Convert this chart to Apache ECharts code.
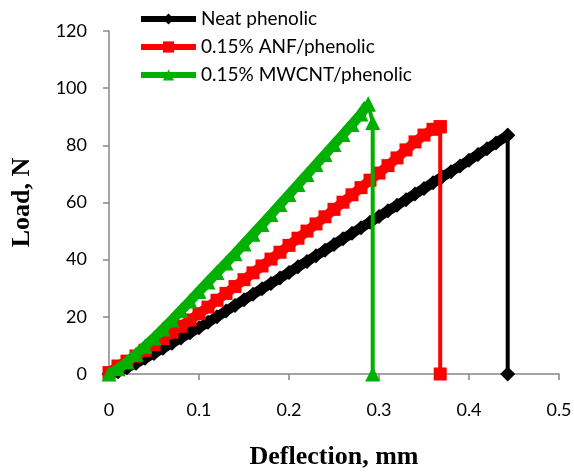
<!DOCTYPE html>
<html>
<head>
<meta charset="utf-8">
<script src="https://cdn.jsdelivr.net/npm/echarts@6/dist/echarts.min.js"></script>
<style>html,body{margin:0;padding:0;background:#fff}#c{width:574px;height:473px}</style>
</head>
<body>
<div id="c"></div>
<script>
var seriesNames = ['Neat phenolic', '0.15% ANF/phenolic', '0.15% MWCNT/phenolic'];
var xTicks = [0, 0.1, 0.2, 0.3, 0.4, 0.5];
var yTicks = [0, 20, 40, 60, 80, 100, 120];

var neatPhenolic = [
  [0,0],[0.01,0.8],[0.02,2.2],[0.03,3.8],[0.04,5.5],[0.05,7.2],[0.06,9],[0.07,10.8],[0.08,12.6],[0.09,14.4],
  [0.10,16.2],[0.11,18.1],[0.12,20],[0.13,22],[0.14,24],[0.15,26],[0.16,27.9],[0.17,29.8],[0.18,31.7],[0.19,33.6],
  [0.20,35.5],[0.21,37.5],[0.22,39.4],[0.23,41.4],[0.24,43.3],[0.25,45.3],[0.26,47.3],[0.27,49.2],[0.28,51.2],[0.29,53.1],
  [0.30,55.1],[0.31,57.1],[0.32,59],[0.33,61],[0.34,63],[0.35,64.9],[0.36,66.9],[0.37,68.9],[0.38,70.8],[0.39,72.8],
  [0.40,74.8],[0.41,76.8],[0.42,78.8],[0.43,80.8],[0.443,83.5],[0.443,0]
];
var anfPhenolic = [
  [0,0.5],[0.01,2.8],[0.02,4.5],[0.03,6.3],[0.04,8.3],[0.05,10.3],[0.06,12.4],[0.07,14.6],[0.08,16.7],[0.09,18.9],
  [0.10,21.1],[0.11,23.4],[0.12,25.8],[0.13,28.2],[0.14,30.6],[0.15,33],[0.16,35.4],[0.17,37.8],[0.18,40.2],[0.19,42.6],
  [0.20,45],[0.21,47.5],[0.22,50],[0.23,52.5],[0.24,55],[0.25,57.6],[0.26,60.1],[0.27,62.7],[0.28,65.2],[0.29,67.8],
  [0.30,70.3],[0.31,72.9],[0.32,75.6],[0.33,78.4],[0.34,81.2],[0.35,83.6],[0.36,85.6],[0.368,86.5],[0.368,0]
];
var mwcntPhenolic = [
  [0,0],[0.01,1.8],[0.02,4.2],[0.03,6.9],[0.04,9.7],[0.05,12.6],[0.06,15.7],[0.07,18.9],[0.08,22.2],[0.09,25.5],
  [0.10,28.9],[0.11,32.2],[0.12,35.5],[0.13,38.8],[0.14,42.1],[0.15,45.5],[0.16,48.9],[0.17,52.3],[0.18,55.8],[0.19,59.3],
  [0.20,62.8],[0.21,66.3],[0.22,69.8],[0.23,73.3],[0.24,76.8],[0.25,80.3],[0.26,83.8],[0.27,87.3],[0.28,91.0],[0.288,94.5],
  [0.293,88],[0.293,0]
];

var colors = ['#000000', '#FF0000', '#00B000'];
var symbols = ['diamond', 'rect', 'triangle'];
var sizes = [15, 13, 15];
var datas = [neatPhenolic, anfPhenolic, mwcntPhenolic];

function peakIndex(d) {
  var k = 0;
  for (var j = 1; j < d.length; j++) { if (d[j][1] > d[k][1]) k = j; }
  return k;
}

var chart = echarts.init(document.getElementById('c'), null, {renderer: 'canvas'});
var series = [];
datas.forEach(function (d, i) {
  var p = peakIndex(d);
  series.push({
    name: seriesNames[i], type: 'line', data: d.slice(0, p + 1),
    symbol: symbols[i], symbolSize: sizes[i], showAllSymbol: true,
    lineStyle: {color: colors[i], width: 10, join: 'round'},
    itemStyle: {color: colors[i], borderWidth: 0},
    z: 2 + i * 2
  });
  series.push({
    name: seriesNames[i], type: 'line', data: d.slice(p),
    symbol: symbols[i], symbolSize: sizes[i], showAllSymbol: true,
    lineStyle: {color: colors[i], width: 4},
    itemStyle: {color: colors[i], borderWidth: 0},
    z: 3 + i * 2
  });
});

chart.setOption({
  animation: false,
  textStyle: {fontFamily: 'Lato'},
  grid: {left: 109, right: 15, top: 31, bottom: 99, containLabel: false, outerBoundsMode: 'none'},
  legend: {
    orient: 'vertical',
    left: 133, top: 3,
    itemWidth: 55, itemHeight: 14, itemGap: 6,
    lineStyle: {width: 6},
    textStyle: {fontFamily: 'Lato', fontSize: 19, lineHeight: 22, color: '#000'},
    data: seriesNames
  },
  xAxis: {
    type: 'value', min: 0, max: 0.5, interval: 0.1,
    name: 'Deflection, mm', nameLocation: 'middle', nameGap: 70,
    nameTextStyle: {fontFamily: 'Liberation Serif', fontWeight: 'bold', fontSize: 26, color: '#000'},
    axisLine: {show: true, lineStyle: {color: '#878787', width: 1.5}},
    axisTick: {show: true, length: 6, lineStyle: {color: '#878787', width: 1.5}},
    axisLabel: {fontFamily: 'Lato', fontSize: 18, color: '#000', margin: 27,
      formatter: function (v) { var r = Math.round(v*10)/10; return xTicks.indexOf(r) >= 0 ? String(r) : ''; }},
    splitLine: {show: false}
  },
  yAxis: {
    type: 'value', min: 0, max: 120, interval: 20,
    name: 'Load, N', nameLocation: 'middle', nameGap: 74, nameRotate: 90,
    nameTextStyle: {fontFamily: 'Liberation Serif', fontWeight: 'bold', fontSize: 26, color: '#000'},
    axisLine: {show: true, lineStyle: {color: '#878787', width: 1.5}},
    axisTick: {show: true, length: 6, lineStyle: {color: '#878787', width: 1.5}},
    axisLabel: {fontFamily: 'Lato', fontSize: 18, color: '#000', margin: 22,
      formatter: function (v) { return yTicks.indexOf(v) >= 0 ? String(v) : ''; }},
    splitLine: {show: false}
  },
  series: series
});
</script>
</body>
</html>
